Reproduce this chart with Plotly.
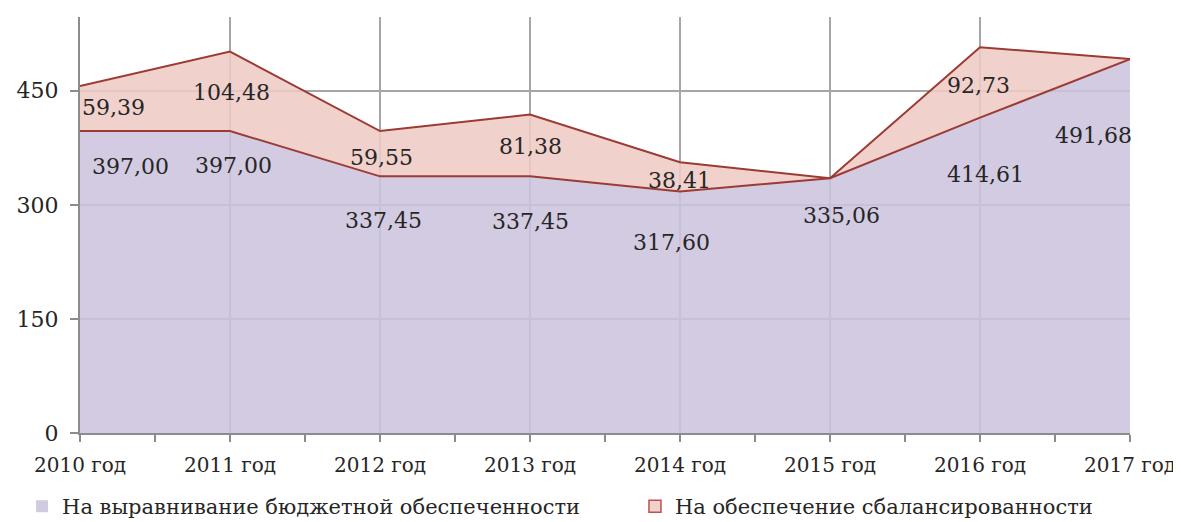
import plotly.graph_objects as go

years = ["2010 год", "2011 год", "2012 год", "2013 год", "2014 год", "2015 год", "2016 год", "2017 год"]
equalization = [397.00, 397.00, 337.45, 337.45, 317.60, 335.06, 414.61, 491.68]
balance = [59.39, 104.48, 59.55, 81.38, 38.41, 0, 92.73, 0]
name_eq = "На выравнивание бюджетной обеспеченности"
name_bal = "На обеспечение сбалансированности"

# label offsets in px (from the picture)
eq_shift = [(50, -35), (3, -34), (3, -44), (0, -45), (-9, -51), (11, -37), (5, -57), (-37, -76)]
bal_shift = [(33, -22), (1, -41), (1, -26), (0, -32), (-1, -18), (0, 0), (-2, -38), (0, 0)]

serif = "DejaVu Serif"
line_red = "#9c3a34"
x = list(range(len(years)))

fig = go.Figure()
fig.add_trace(go.Scatter(x=x, y=equalization, stackgroup="s", mode="lines",
                         line=dict(color=line_red, width=2),
                         fillcolor="rgba(204,195,221,0.87)", showlegend=False))
fig.add_trace(go.Scatter(x=x, y=balance, stackgroup="s", mode="lines",
                         line=dict(color=line_red, width=2),
                         fillcolor="rgba(238,202,196,0.87)", showlegend=False))

# legend entries (two legends so they stay on one line)
fig.add_trace(go.Scatter(x=[None], y=[None], mode="markers", name=name_eq, legend="legend",
                         marker=dict(symbol="square", size=12, color="#d2cae0")))
fig.add_trace(go.Scatter(x=[None], y=[None], mode="markers", name=name_bal, legend="legend2",
                         marker=dict(symbol="square", size=12, color="#f0d2cd",
                                     line=dict(color="#c0504d", width=1.5))))

for i in x:
    fig.add_annotation(x=i, y=equalization[i], text=f"{equalization[i]:.2f}".replace(".", ","),
                       showarrow=False, xshift=eq_shift[i][0], yshift=eq_shift[i][1],
                       font=dict(family=serif, size=22, color="#262626"))
    if balance[i] > 0:
        fig.add_annotation(x=i, y=equalization[i] + balance[i],
                           text=f"{balance[i]:.2f}".replace(".", ","),
                           showarrow=False, xshift=bal_shift[i][0], yshift=bal_shift[i][1],
                           font=dict(family=serif, size=22, color="#262626"))

leg = dict(orientation="h", xref="container", xanchor="left", yref="container",
           y=0.03, yanchor="middle", font=dict(family=serif, size=21, color="#262626"),
           itemwidth=30, bgcolor="rgba(0,0,0,0)", tracegroupgap=0)

fig.update_layout(
    width=1173, height=514,
    margin=dict(l=72, r=51, t=9, b=89, autoexpand=False),
    plot_bgcolor="white", paper_bgcolor="white",
    font=dict(family=serif, size=21, color="#262626"),
    showlegend=True,
    legend=dict(leg, x=0.012),
    legend2=dict(leg, x=0.5345),
)
fig.update_xaxes(range=[0, 7], tickvals=x, ticktext=years, showgrid=True, automargin=False,
                 gridcolor="#a6a6a6", gridwidth=1.5, showline=True, linecolor="#8c8c8c",
                 linewidth=2, ticks="outside", ticklen=7, tickcolor="#8c8c8c", tickwidth=1.5,
                 minor=dict(tick0=0.5, dtick=1, ticks="outside", ticklen=7,
                            tickcolor="#8c8c8c", showgrid=False),
                 zeroline=False, ticklabelstandoff=6, tickfont=dict(family=serif, size=20))
fig.update_yaxes(range=[0, 547], tickvals=[0, 150, 300, 450], showgrid=True, automargin=False,
                 gridcolor="#a6a6a6", gridwidth=1.5, showline=True, linecolor="#8c8c8c",
                 linewidth=2, ticks="outside", ticklen=8, tickcolor="#8c8c8c", tickwidth=1.5,
                 zeroline=False, ticklabelstandoff=7, tickfont=dict(family=serif, size=22))

fig.write_html("out.html")
